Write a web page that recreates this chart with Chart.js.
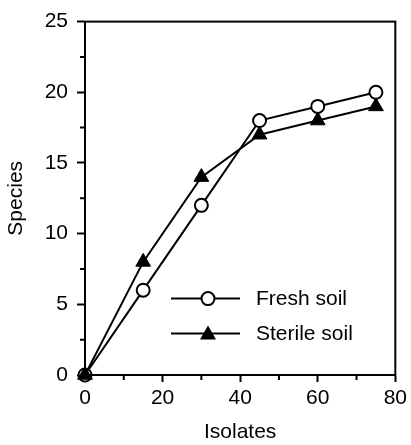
<!DOCTYPE html>
<html>
<head>
<meta charset="utf-8">
<script src="https://cdn.jsdelivr.net/npm/chart.js@4/dist/chart.umd.min.js"></script>
<style>
  html, body { margin: 0; padding: 0; background: #fff; }
  canvas { display: block; }
</style>
</head>
<body>
<canvas id="chart" width="411" height="445"></canvas>
<script>
// Datos
const isolates = [0, 15, 30, 45, 60, 75];
const freshSoil = [0, 6, 12, 18, 19, 20];
const sterileSoil = [0, 8, 14, 17, 18, 19];
const seriesLabels = ['Fresh soil', 'Sterile soil'];
const xMinorTicks = [10, 30, 50, 70];
const yMinorTicks = [2.5, 7.5, 12.5, 17.5, 22.5];

const FONT = '"Liberation Sans", Arial, Helvetica, sans-serif';

const toPoints = (ys) => isolates.map((x, i) => ({ x: x, y: ys[i] }));

// Marco, ticks menores y leyenda
const framePlugin = {
  id: 'frame',
  afterDraw(chart) {
    const ctx = chart.ctx;
    const a = chart.chartArea;
    const xs = chart.scales.x;
    const ys = chart.scales.y;
    ctx.save();
    ctx.strokeStyle = '#000';
    ctx.lineWidth = 2;
    ctx.strokeRect(a.left, a.top, a.right - a.left, a.bottom - a.top);

    // ticks menores
    ctx.beginPath();
    xMinorTicks.forEach(v => {
      const px = xs.getPixelForValue(v);
      ctx.moveTo(px, a.bottom);
      ctx.lineTo(px, a.bottom + 5);
    });
    yMinorTicks.forEach(v => {
      const py = ys.getPixelForValue(v);
      ctx.moveTo(a.left, py);
      ctx.lineTo(a.left - 5, py);
    });
    ctx.stroke();

    // leyenda
    const rows = [
      { y: a.top + 277, style: 'circle' },
      { y: a.top + 312, style: 'triangle' },
    ];
    ctx.font = '21px ' + FONT;
    ctx.textBaseline = 'middle';
    rows.forEach((r, i) => {
      ctx.beginPath();
      ctx.moveTo(a.left + 86, r.y);
      ctx.lineTo(a.left + 155, r.y);
      ctx.stroke();
      const mx = a.left + 123;
      if (r.style === 'circle') {
        ctx.beginPath();
        ctx.arc(mx, r.y, 6.5, 0, Math.PI * 2);
        ctx.fillStyle = '#fff';
        ctx.fill();
        ctx.stroke();
      } else {
        ctx.beginPath();
        ctx.moveTo(mx, r.y - 8);
        ctx.lineTo(mx + 8, r.y + 6);
        ctx.lineTo(mx - 8, r.y + 6);
        ctx.closePath();
        ctx.fillStyle = '#000';
        ctx.fill();
      }
      ctx.fillStyle = '#000';
      ctx.fillText(seriesLabels[i], a.left + 171, r.y + 1);
    });
    ctx.restore();
  }
};

const tickFont = { family: FONT, size: 21 };
const titleFont = { family: FONT, size: 21 };

new Chart(document.getElementById('chart').getContext('2d'), {
  type: 'line',
  data: {
    datasets: [
      {
        label: seriesLabels[0],
        data: toPoints(freshSoil),
        borderColor: '#000',
        borderWidth: 2,
        pointStyle: 'circle',
        pointRadius: 6.5,
        pointBackgroundColor: '#fff',
        pointBorderColor: '#000',
        pointBorderWidth: 2,
        tension: 0,
        clip: false,
        order: 1,
      },
      {
        label: seriesLabels[1],
        data: toPoints(sterileSoil),
        borderColor: '#000',
        borderWidth: 2,
        pointStyle: 'triangle',
        pointRadius: 8.5,
        pointBackgroundColor: '#000',
        pointBorderColor: '#000',
        pointBorderWidth: 1,
        tension: 0,
        clip: false,
        order: 0,
      },
    ],
  },
  options: {
    responsive: false,
    animation: false,
    layout: { padding: { left: 0, right: 14, top: 18, bottom: 0 } },
    plugins: {
      legend: { display: false },
      tooltip: { enabled: false },
    },
    scales: {
      x: {
        type: 'linear',
        min: 0,
        max: 80,
        afterFit: (s) => { s.height = 70; },
        ticks: { stepSize: 20, color: '#000', font: tickFont, padding: 4, maxRotation: 0 },
        grid: { drawOnChartArea: false, tickLength: 7, tickColor: '#000', tickWidth: 2 },
        border: { color: '#000', width: 2 },
        title: { display: true, text: 'Isolates', color: '#000', font: titleFont, padding: 0 },
      },
      y: {
        min: 0,
        max: 25,
        afterFit: (s) => { s.width = 85; },
        ticks: { stepSize: 5, color: '#000', font: tickFont, padding: 9 },
        grid: { drawOnChartArea: false, tickLength: 8, tickColor: '#000', tickWidth: 2 },
        border: { color: '#000', width: 2 },
        title: { display: true, text: 'Species', color: '#000', font: titleFont, padding: 4 },
      },
    },
  },
  plugins: [framePlugin],
});
</script>
</body>
</html>
